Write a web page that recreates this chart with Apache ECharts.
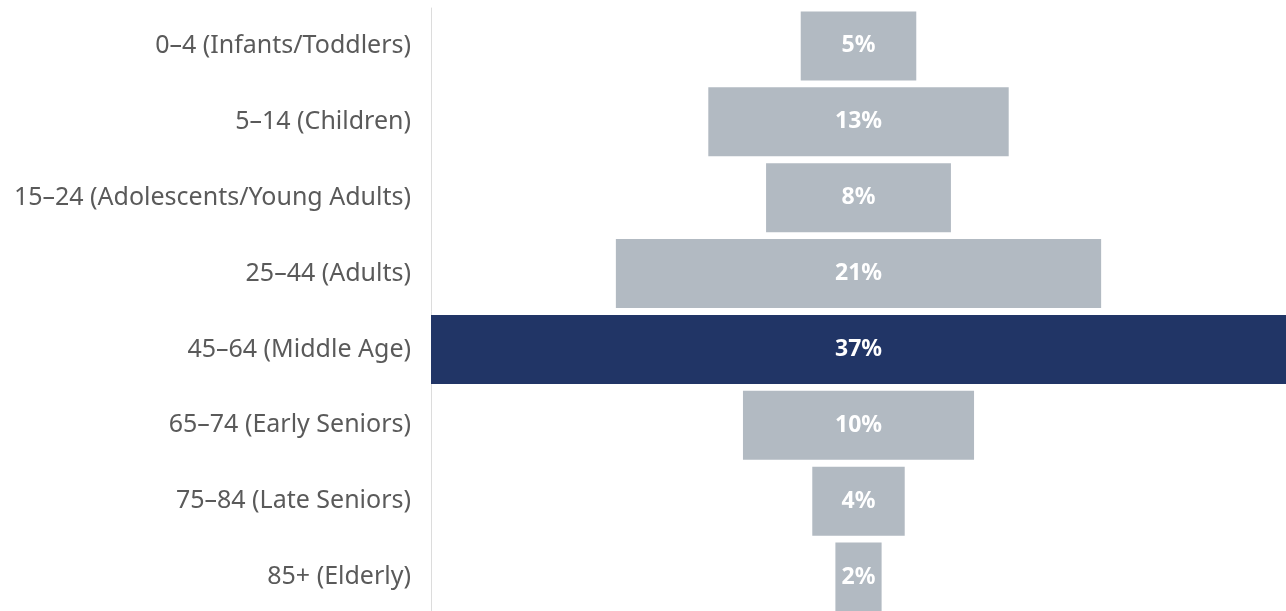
<!DOCTYPE html>
<html>
<head>
<meta charset="utf-8">
<script src="https://cdn.jsdelivr.net/npm/echarts@6/dist/echarts.min.js"></script>
<style>
  html, body { margin: 0; padding: 0; background: #fff; overflow: hidden; }
  #chart { width: 1286px; height: 615px; }
</style>
</head>
<body>
<div id="chart"></div>
<script>
// Age groups, top to bottom
const ageGroups = [
  '0–4 (Infants/Toddlers)',
  '5–14 (Children)',
  '15–24 (Adolescents/Young Adults)',
  '25–44 (Adults)',
  '45–64 (Middle Age)',
  '65–74 (Early Seniors)',
  '75–84 (Late Seniors)',
  '85+ (Elderly)'
];
// Share of population, percent
const shares = [5, 13, 8, 21, 37, 10, 4, 2];

const peak = Math.max(...shares);
// Invisible left padding so each bar sits centred on the axis
const padding = shares.map(v => (peak - v) / 2);

const chart = echarts.init(document.getElementById('chart'), null, { renderer: 'canvas' });

chart.setOption({
  animation: false,
  grid: { left: 431, right: 0, top: 8, bottom: 0, containLabel: false },
  xAxis: {
    type: 'value',
    min: 0,
    max: peak,
    show: false
  },
  yAxis: {
    type: 'category',
    data: ageGroups,
    inverse: true,
    axisLine: { show: true, lineStyle: { color: '#dcdcdc', width: 1 } },
    axisTick: { show: false },
    axisLabel: {
      margin: 20,
      color: '#5a5a5a',
      fontFamily: 'Noto Sans',
      fontSize: 25
    }
  },
  series: [
    {
      type: 'bar',
      stack: 'funnel',
      data: padding,
      itemStyle: { color: 'transparent' },
      silent: true,
      barCategoryGap: '9%'
    },
    {
      type: 'bar',
      stack: 'funnel',
      data: shares.map(v => ({
        value: v,
        itemStyle: { color: v === peak ? '#213566' : '#b2bac2' }
      })),
      barCategoryGap: '9%',
      label: {
        show: true,
        position: 'inside',
        formatter: p => p.value + '%',
        color: '#ffffff',
        fontWeight: 'bold',
        fontFamily: 'Noto Sans',
        fontSize: 23
      }
    }
  ]
});
</script>
</body>
</html>
